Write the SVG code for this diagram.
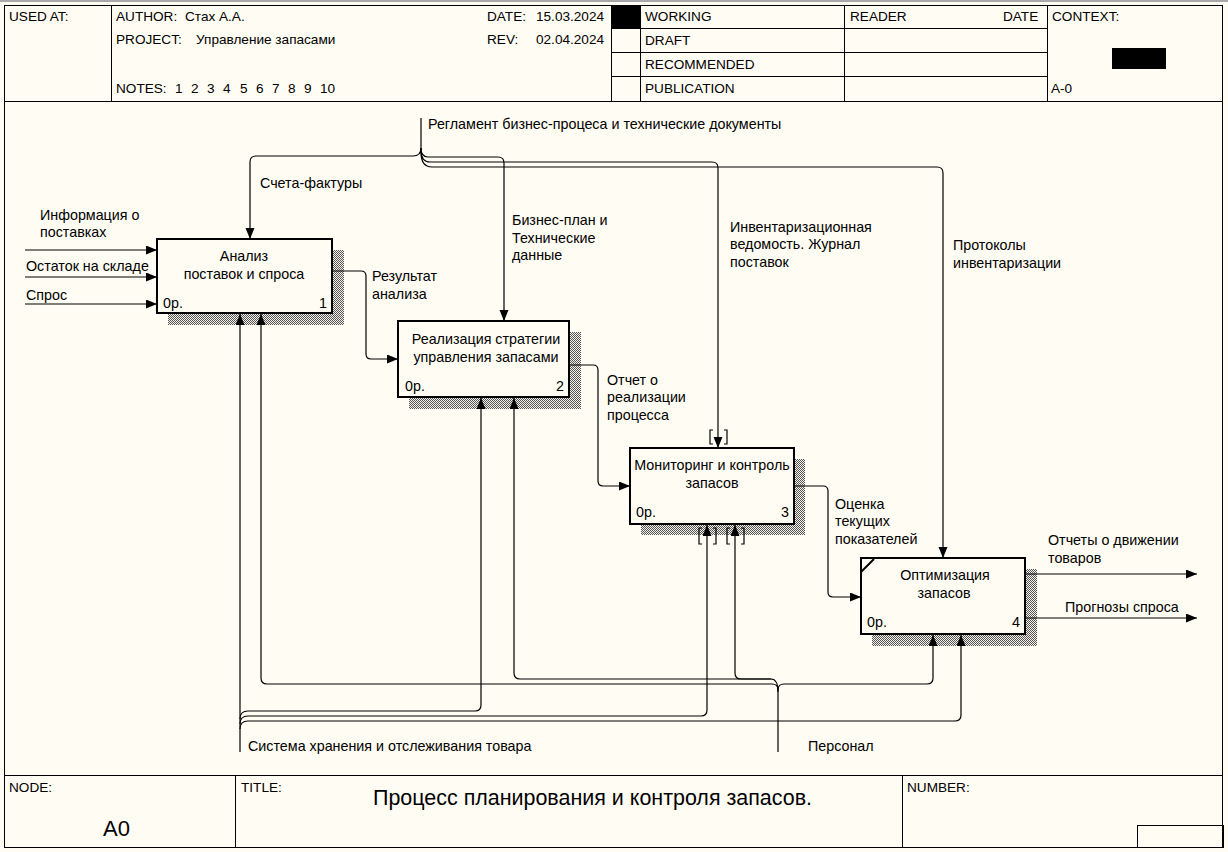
<svg xmlns="http://www.w3.org/2000/svg" width="1228" height="852" viewBox="0 0 1228 852">
<defs>
<style>
.t{font-family:"Liberation Sans",Arial,sans-serif;font-size:14.3px;fill:#000}
.h{font-family:"Liberation Sans",Arial,sans-serif;font-size:13.6px;fill:#000}
.f{fill:none;stroke:#000;stroke-width:1}
.c{fill:none;stroke:#000;stroke-width:1.2}
.a{marker-end:url(#arr)}
.box{fill:#fffcf3;stroke:#000;stroke-width:2}
.sh{fill:url(#dither)}
.m{text-anchor:middle}
.e{text-anchor:end}
</style>
<pattern id="dither" width="2" height="2" patternUnits="userSpaceOnUse">
<rect width="2" height="2" fill="#f4f2ea"/>
<rect width="1" height="1" fill="#555"/>
<rect x="1" y="1" width="1" height="1" fill="#555"/>
</pattern>
<marker id="arr" markerWidth="12" markerHeight="10" refX="11" refY="4.5" orient="auto" markerUnits="userSpaceOnUse">
<path d="M0,0 L11,4.5 L0,9 z" fill="#000"/>
</marker>
</defs>
<rect width="1228" height="852" fill="#fffcf3"/>
<rect x="0" y="0" width="1228" height="2" fill="#a8a8a8"/>
<g id="frame">
<rect class="f" x="4.5" y="5.5" width="1218" height="842"/>
<path class="f" d="M4,101.5H1223 M111.5,5V101 M611.5,5V101 M640.5,5V101 M844.5,5V101 M1047.5,5V101 M611,28.5H1047 M611,52.5H1047 M611,76.5H1047 M4,775.5H1223 M235.5,775V848 M902.5,775V848"/>
<rect class="f" x="1137.5" y="825.5" width="86" height="22"/>
<rect x="612" y="6" width="28" height="22" fill="#000"/>
<rect x="1112" y="48" width="54" height="21" fill="#000"/>
<text class="h" x="9" y="21">USED AT:</text>
<text class="h" x="116" y="21">AUTHOR:</text>
<text class="h" x="185" y="21">Стах А.А.</text>
<text class="h" x="116" y="44">PROJECT:</text>
<text class="h" x="196" y="44">Управление запасами</text>
<text class="h" x="487" y="21">DATE:</text>
<text class="h" x="536" y="21">15.03.2024</text>
<text class="h" x="487" y="44">REV:</text>
<text class="h" x="536" y="44">02.04.2024</text>
<text class="h" x="116" y="93">NOTES:</text>
<text class="h" x="175" y="93">1</text><text class="h" x="191" y="93">2</text><text class="h" x="207" y="93">3</text><text class="h" x="223" y="93">4</text><text class="h" x="240" y="93">5</text><text class="h" x="256" y="93">6</text><text class="h" x="272" y="93">7</text><text class="h" x="288" y="93">8</text><text class="h" x="304" y="93">9</text><text class="h" x="320" y="93">10</text>
<text class="h" x="645" y="21">WORKING</text>
<text class="h" x="645" y="45">DRAFT</text>
<text class="h" x="645" y="69">RECOMMENDED</text>
<text class="h" x="645" y="93">PUBLICATION</text>
<text class="h" x="850" y="21">READER</text>
<text class="h" x="1003" y="21">DATE</text>
<text class="h" x="1052" y="21">CONTEXT:</text>
<text class="h" x="1051" y="93">A-0</text>
<text class="h" x="9" y="792">NODE:</text>
<text class="h" x="241" y="792">TITLE:</text>
<text class="h" x="907" y="792">NUMBER:</text>
<text class="t" x="103" y="836" style="font-size:22px">A0</text>
<text class="t" x="373" y="805" style="font-size:22px" textLength="439" lengthAdjust="spacingAndGlyphs">Процесс планирования и контроля запасов.</text>
</g>
<g id="box1">
<rect class="sh" x="168" y="250" width="176" height="75"/>
<rect class="box" x="157" y="239" width="175" height="74"/>
<text class="t m" x="244" y="261">Анализ</text>
<text class="t m" x="244" y="279">поставок и спроса</text>
<text class="t" x="163" y="308">0р.</text>
<text class="t e" x="327" y="308">1</text>
</g>
<g id="box2">
<rect class="sh" x="409" y="332" width="172" height="77"/>
<rect class="box" x="398" y="321" width="171" height="76"/>
<text class="t m" x="486" y="344">Реализация стратегии</text>
<text class="t m" x="486" y="362">управления запасами</text>
<text class="t" x="405" y="391">0р.</text>
<text class="t e" x="564" y="391">2</text>
</g>
<g id="box3">
<rect class="sh" x="641" y="459" width="164" height="76"/>
<rect class="box" x="630" y="448" width="164" height="76"/>
<text class="t m" x="712" y="470">Мониторинг и контроль</text>
<text class="t m" x="712" y="488">запасов</text>
<text class="t" x="636" y="517">0р.</text>
<text class="t e" x="789" y="517">3</text>
</g>
<g id="box4">
<rect class="sh" x="872" y="569" width="165" height="77"/>
<rect class="box" x="861" y="558" width="164" height="76"/>
<path class="c" d="M861,572L874,559" style="stroke-width:2"/>
<text class="t m" x="945" y="580">Оптимизация</text>
<text class="t m" x="944" y="598">запасов</text>
<text class="t" x="867" y="627">0р.</text>
<text class="t e" x="1020" y="627">4</text>
</g>
<g id="connectors">
<path class="c a" d="M25,250H157"/>
<path class="c a" d="M25,277H157"/>
<path class="c a" d="M25,304H157"/>
<path class="c a" d="M333,271H361Q366,271 366,276V354Q366,359 371,359H398"/>
<path class="c a" d="M570,365H593Q598,365 598,370V481Q598,486 603,486H630"/>
<path class="c a" d="M795,486H823Q828,486 828,491V592Q828,597 833,597H861"/>
<path class="c a" d="M1026,574H1197"/>
<path class="c a" d="M1026,618H1197"/>
<path class="c" d="M421,118V150"/>
<path class="c a" d="M421,148Q421,156 413,156H256Q250,156 250,162V239"/>
<path class="c a" d="M421,148Q421,157 428,157H498Q504,157 504,163V321"/>
<path class="c a" d="M421,150Q421,162 430,162H712Q718,162 718,168V448"/>
<path class="c a" d="M421,152Q421,167 432,167H937Q943,167 943,173V558"/>
<path class="c" d="M713,430H710V444H713 M724,430H727V444H724"/>
<path class="c" d="M702,528H699V544H702 M713,528H716V544H713"/>
<path class="c" d="M730,528H727V544H730 M741,528H744V544H741"/>
<path class="c a" d="M240,752V314"/>
<path class="c a" d="M240,719Q240,711 248,711H475Q481,711 481,705V398"/>
<path class="c a" d="M240,724Q240,716 248,716H701Q707,716 707,710V525"/>
<path class="c a" d="M240,729Q240,721 248,721H955Q961,721 961,715V635"/>
<path class="c a" d="M778,752V690Q778,684 772,684H267Q261,684 261,678V314"/>
<path class="c a" d="M778,690Q778,684 784,684H927Q933,684 933,678V635"/>
<path class="c a" d="M778,692Q778,679 771,679H520Q514,679 514,673V398"/>
<path class="c a" d="M771,679H741Q735,679 735,673V525"/>
<text class="t" x="428" y="129">Регламент бизнес-процеса и технические документы</text>
<text class="t" x="260" y="188">Счета-фактуры</text>
<text class="t" x="40" y="220">Информация о</text>
<text class="t" x="40" y="237">поставках</text>
<text class="t" x="26" y="271">Остаток на складе</text>
<text class="t" x="26" y="300">Спрос</text>
<text class="t" x="372" y="281">Результат</text>
<text class="t" x="372" y="299">анализа</text>
<text class="t" x="512" y="225">Бизнес-план и</text>
<text class="t" x="512" y="243">Технические</text>
<text class="t" x="512" y="260">данные</text>
<text class="t" x="730" y="232">Инвентаризационная</text>
<text class="t" x="730" y="249">ведомость. Журнал</text>
<text class="t" x="730" y="267">поставок</text>
<text class="t" x="953" y="250">Протоколы</text>
<text class="t" x="953" y="268">инвентаризации</text>
<text class="t" x="607" y="385">Отчет о</text>
<text class="t" x="607" y="402">реализации</text>
<text class="t" x="607" y="420">процесса</text>
<text class="t" x="835" y="509">Оценка</text>
<text class="t" x="835" y="526">текущих</text>
<text class="t" x="835" y="544">показателей</text>
<text class="t" x="1048" y="545">Отчеты о движении</text>
<text class="t" x="1048" y="563">товаров</text>
<text class="t" x="1065" y="612">Прогнозы спроса</text>
<text class="t" x="248" y="751">Система хранения и отслеживания товара</text>
<text class="t" x="808" y="751">Персонал</text>
</g>
</svg>
